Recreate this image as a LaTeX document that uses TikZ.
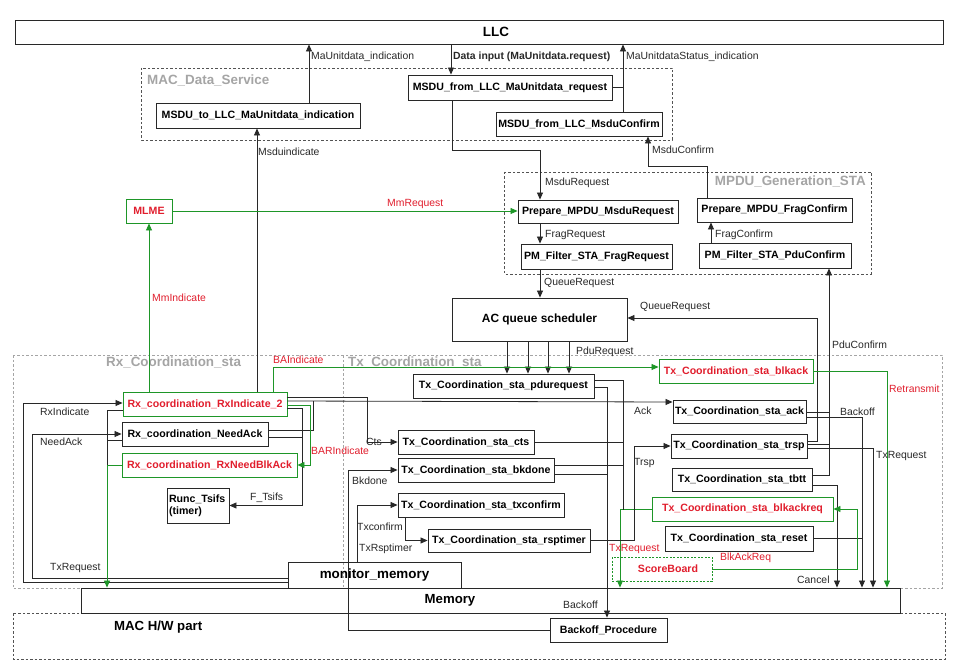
\documentclass[tikz,border=0pt]{standalone}
\usepackage{fontspec}
\setmainfont{Liberation Sans}
\usetikzlibrary{arrows.meta}
\definecolor{gr}{RGB}{30,150,40}
\definecolor{rd}{RGB}{225,30,45}
\definecolor{lnc}{RGB}{40,40,40}
\definecolor{grpc}{RGB}{165,165,165}
\newcommand{\fsz}[1]{\fontsize{#1}{#1}\selectfont}
\begin{document}
\begin{tikzpicture}[x=1pt,y=-1pt,
 box/.style={draw=lnc, line width=0.9pt, fill=white, inner sep=0pt, font=\fsz{10.6}\bfseries},
 gbox/.style={box, draw=gr, text=rd},
 obox/.style={draw=lnc, line width=0.9pt, inner sep=0pt},
 wire/.style={draw=lnc, line width=0.8pt},
 gwire/.style={draw=gr, line width=0.8pt},
 arr/.style={wire, -{Triangle[length=7pt,width=6pt]}},
 garr/.style={gwire, -{Triangle[length=7pt,width=6pt]}},
 lab/.style={anchor=west, inner sep=0pt, font=\fsz{10.4}, text=lnc},
 rlab/.style={lab, text=rd},
 glab/.style={anchor=west, inner sep=0pt, font=\fsz{13.4}\bfseries, text=grpc},
 grpbox/.style={draw=lnc!80, line width=0.8pt, dash pattern=on 2.5pt off 2pt},
 lgrpbox/.style={draw=grpc, line width=0.7pt, dash pattern=on 2.5pt off 2pt},
]
\useasboundingbox[fill=white] (0,0) rectangle (962,671);

% groups
\draw[grpbox] (141,68) rectangle (672,140);
\node[glab] at (147,80) {MAC\_Data\_Service};
\draw[grpbox] (504,172) rectangle (871,274);
\node[glab, anchor=east] at (866,181) {MPDU\_Generation\_STA};
\draw[lgrpbox] (13,355) rectangle (942,588);
\draw[lgrpbox] (343,355) -- (343,588);
\node[glab] at (106,362) {Rx\_Coordination\_sta};
\node[glab] at (348,362) {Tx\_Coordination\_sta};
\draw[grpbox] (13,613) rectangle (945,659);
\node[anchor=west, inner sep=0pt, font=\fsz{13.2}\bfseries] at (114,627) {MAC H/W part};

% nodes (coordinates only, drawn later)
\node[obox, minimum width=928, minimum height=24] (LLC) at (479,32) {};
\node[box, minimum width=204, minimum height=25] (toLLC) at (258,115.5) {MSDU\_to\_LLC\_MaUnitdata\_indication};
\node[box, minimum width=204, minimum height=25] (maReq) at (510,87.5) {MSDU\_from\_LLC\_MaUnitdata\_request};
\node[box, minimum width=166, minimum height=24] (msduConf) at (579,124) {MSDU\_from\_LLC\_MsduConfirm};
\node[box, minimum width=160, minimum height=23] (prepMsdu) at (598,211.5) {Prepare\_MPDU\_MsduRequest};
\node[box, minimum width=155, minimum height=24] (prepFrag) at (774.5,210) {Prepare\_MPDU\_FragConfirm};
\node[box, minimum width=151, minimum height=25] (pmFrag) at (596.5,256.5) {PM\_Filter\_STA\_FragRequest};
\node[box, minimum width=152, minimum height=25] (pmPdu) at (775,255.5) {PM\_Filter\_STA\_PduConfirm};
\node[box, minimum width=175, minimum height=43, font=\fsz{11.9}\bfseries] (acq) at (539.5,319.5) {AC queue scheduler};
\node[gbox, minimum width=46, minimum height=24] (mlme) at (149,211) {MLME};
\node[gbox, minimum width=164, minimum height=24] (rxInd) at (205,404) {Rx\_coordination\_RxIndicate\_2};
\node[box, minimum width=146, minimum height=24] (needAck) at (195,434) {Rx\_coordination\_NeedAck};
\node[gbox, minimum width=175, minimum height=24] (rxNBA) at (209.5,465) {Rx\_coordination\_RxNeedBlkAck};
\node[box, minimum width=62, minimum height=35, align=left, text width=58] (runc) at (198,505.5) {Runc\_Tsifs\\[1pt](timer)};
\node[box, minimum width=181, minimum height=24] (pdu) at (503.5,386) {Tx\_Coordination\_sta\_pdurequest};
\node[box, minimum width=136, minimum height=24] (cts) at (466,442) {Tx\_Coordination\_sta\_cts};
\node[box, minimum width=156, minimum height=24] (bkd) at (476,470) {Tx\_Coordination\_sta\_bkdone};
\node[box, minimum width=166, minimum height=24] (txc) at (481,505) {Tx\_Coordination\_sta\_txconfirm};
\node[box, minimum width=162, minimum height=23] (rsp) at (509,540.5) {Tx\_Coordination\_sta\_rsptimer};
\node[gbox, minimum width=154, minimum height=24] (blkack) at (736,371) {Tx\_Coordination\_sta\_blkack};
\node[box, minimum width=133, minimum height=23] (ack) at (739.5,411.5) {Tx\_Coordination\_sta\_ack};
\node[box, minimum width=136, minimum height=24] (trsp) at (739,446) {Tx\_Coordination\_sta\_trsp};
\node[box, minimum width=140, minimum height=23] (tbtt) at (742,479.5) {Tx\_Coordination\_sta\_tbtt};
\node[gbox, minimum width=181, minimum height=24] (blkackreq) at (742.5,509) {Tx\_Coordination\_sta\_blkackreq};
\node[box, minimum width=148, minimum height=25] (reset) at (739,538.5) {Tx\_Coordination\_sta\_reset};
\node[draw=gr, line width=0.7pt, dash pattern=on 2pt off 1.5pt, fill=white, inner sep=0pt, minimum width=100, minimum height=24] (score) at (662,569) {};
\node[obox, minimum width=173, minimum height=26] (mon) at (374.5,575) {};
\node[obox, minimum width=819, minimum height=25] (mem) at (490.5,600.5) {};
\node[box, minimum width=117, minimum height=24] (bp) at (608.5,630) {Backoff\_Procedure};

% connectors
\draw[arr] (309,0 |- toLLC.north) -- (309,0 |- LLC.south);
\draw[arr] (451,0 |- LLC.south) -- (451,0 |- maReq.north);
\draw[arr] (623,0 |- msduConf.north) -- (623,0 |- LLC.south);
\draw[wire] (maReq.east) -- (623,0 |- maReq.east);
\draw[arr] (257,0 |- rxInd.north) -- (257,0 |- toLLC.south);
\draw[arr] (452,0 |- maReq.south) |- (540,150) -- (540,0 |- prepMsdu.north);
\draw[arr] (707,0 |- prepFrag.north) |- (648,166) -- (648,0 |- msduConf.south);
\draw[garr] (mlme.east) -- (prepMsdu.west |- mlme.east);
\draw[arr] (540,0 |- prepMsdu.south) -- (540,0 |- pmFrag.north);
\draw[arr] (711,0 |- pmPdu.north) -- (711,0 |- prepFrag.south);
\draw[arr] (540,0 |- pmFrag.south) -- (540,0 |- acq.north);
\foreach \xx in {507,528,548,569} \draw[arr] (\xx,0 |- acq.south) -- (\xx,0 |- pdu.north);
\draw[arr] (trsp.east |- 0,441) -| (817,318) -- (acq.east |- 0,318);
\draw[arr] (tbtt.east |- 0,475) -| (829,0 |- pmPdu.south);
\draw[wire] (ack.east |- 0,412) -- (829,412);
\draw[wire] (trsp.east |- 0,444) -- (829,444);
\draw[arr] (ack.east |- 0,417) -| (862,0 |- mem.north);
\draw[wire] (reset.east) -- (862,0 |- reset.east);
\draw[arr] (trsp.east |- 0,448) -| (873,0 |- mem.north);
\draw[arr] (tbtt.east |- 0,485) -| (837,0 |- mem.north);
\draw[garr] (blkack.east) -| (887,0 |- mem.north);
\draw[garr] (score.east) -| (857,509) -- (blkackreq.east);
\draw[garr] (blkackreq.west) -| (620,0 |- mem.north);
\draw[wire] (pdu.east |- 0,380) -| (623,510);
\draw[wire] (cts.east) -- (623,0 |- cts.east);
\draw[wire] (bkd.east |- 0,465) -- (623,465);
\draw[arr] (pdu.east |- 0,387) -| (607,0 |- bp.north);
\draw[wire] (bkd.east |- 0,474) -- (607,474);
\draw[arr] (rsp.east) -| (634,0 |- trsp.west) -- (trsp.west);
\draw[arr] (357,0 |- mon.north) |- (txc.west);
\draw[arr] (405,0 |- txc.south) |- (rsp.west);
\draw[arr] (bp.west) -| (348,0 |- bkd.west) -- (bkd.west);
\draw[arr] (rxInd.east |- 0,397) -| (367,0 |- cts.west) -- (cts.west);
\draw[arr] (rxInd.east |- 0,401) -- (ack.west |- 0,402);
\draw[wire] (needAck.east |- 0,430) -| (313,401);
\draw[arr] (rxInd.east |- 0,408) -| (302,0 |- runc.east) -- (runc.east);
\draw[wire] (needAck.east |- 0,437) -- (302,437);
\draw[garr] (rxInd.east |- 0,405) -| (310,0 |- rxNBA.east) -- (rxNBA.east);
\draw[garr] (273,0 |- rxInd.north) |- (blkack.west |- 0,367);
\draw[garr] (149,0 |- rxInd.north) -- (mlme.south);
\draw[arr] (mon.west |- 0,582) -| (23,403) -- (rxInd.west |- 0,403);
\draw[arr] (mon.west |- 0,578) -| (32,0 |- needAck.west) -- (needAck.west);
\draw[wire] (rxInd.west |- 0,410) -| (107,465);
\draw[wire] (needAck.west |- 0,440) -- (107,440);
\draw[garr] (rxNBA.west) -| (107,0 |- mem.north);

% redraw filled boxes on top of wires
\foreach \nn/\tt in {toLLC/MSDU\_to\_LLC\_MaUnitdata\_indication} {}
\node[font=\fsz{13.4}\bfseries] at (496,32) {LLC};
\node[font=\fsz{13.4}\bfseries] at (374.5,575) {monitor\_memory};
\node[font=\fsz{13.2}\bfseries] at (450,600) {Memory};
\node[font=\fsz{10.6}\bfseries, text=rd] at (668,569) {ScoreBoard};

% labels
\node[lab] at (311,57) {MaUnitdata\_indication};
\node[lab, font=\fsz{10.4}\bfseries] at (453,57) {Data input (MaUnitdata.request)};
\node[lab] at (626,57) {MaUnitdataStatus\_indication};
\node[lab] at (258,152) {Msduindicate};
\node[lab] at (545,183) {MsduRequest};
\node[lab] at (652,150) {MsduConfirm};
\node[rlab] at (387,204) {MmRequest};
\node[lab] at (545,235) {FragRequest};
\node[lab] at (715,235) {FragConfirm};
\node[lab] at (544,283) {QueueRequest};
\node[lab] at (640,307) {QueueRequest};
\node[rlab] at (152,298) {MmIndicate};
\node[lab] at (576,352) {PduRequest};
\node[lab] at (832,345) {PduConfirm};
\node[rlab] at (273,360) {BAIndicate};
\node[rlab] at (889,389) {Retransmit};
\node[lab] at (40,412) {RxIndicate};
\node[lab] at (634,411) {Ack};
\node[lab] at (840,412) {Backoff};
\node[lab] at (40,442) {NeedAck};
\node[lab] at (366,442) {Cts};
\node[rlab] at (311,451) {BARIndicate};
\node[lab] at (876,456) {TxRequest};
\node[lab] at (634,463) {Trsp};
\node[lab] at (352,481) {Bkdone};
\node[lab] at (250,498) {F\_Tsifs};
\node[lab] at (357,527) {Txconfirm};
\node[lab] at (359,549) {TxRsptimer};
\node[rlab] at (609,549) {TxRequest};
\node[rlab] at (720,558) {BlkAckReq};
\node[lab] at (50,568) {TxRequest};
\node[lab] at (797,580) {Cancel};
\node[lab] at (563,605) {Backoff};
\end{tikzpicture}
\end{document}
